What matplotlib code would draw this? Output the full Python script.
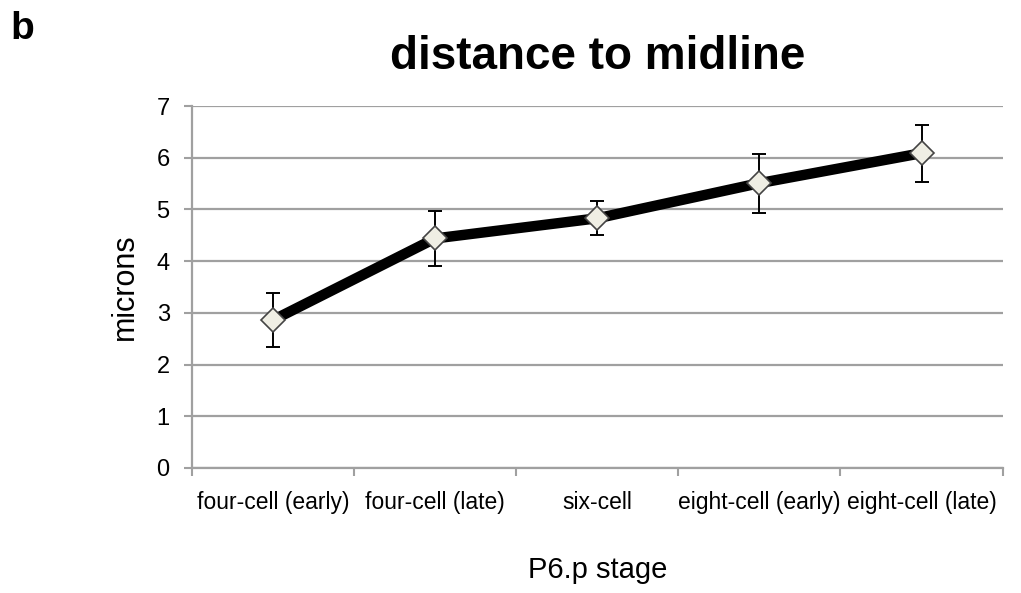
import numpy as np
import matplotlib
matplotlib.use('Agg')
import matplotlib.pyplot as plt

plt.rcParams['font.family'] = ['Liberation Sans', 'DejaVu Sans']

stages = ['four-cell (early)', 'four-cell (late)', 'six-cell',
          'eight-cell (early)', 'eight-cell (late)']
distance = [2.86, 4.44, 4.83, 5.51, 6.09]
err = [0.52, 0.53, 0.33, 0.57, 0.55]

fig = plt.figure(figsize=(10.21, 5.93), dpi=100)
ax = fig.add_axes([0.188, 0.211, 0.794, 0.610])

x = np.arange(len(stages)) + 0.5
grid_c = '#a0a0a0'

ax.errorbar(x, distance, yerr=err, fmt='none', ecolor='black',
            elinewidth=1.4, capsize=5, capthick=1.4, zorder=3)
ax.plot(x, distance, color='black', linewidth=7.5, zorder=4)
ax.plot(x, distance, linestyle='none', marker='D', markersize=12,
        markerfacecolor='#efeee4', markeredgecolor='#444444',
        markeredgewidth=1.2, zorder=5)

ax.set_xlim(0, len(stages))
ax.set_ylim(0, 7)
ax.set_yticks(range(8))
ax.set_xticks(range(len(stages) + 1))
ax.set_xticklabels([])
ax.set_xticks(x, minor=True)
ax.set_xticklabels(stages, minor=True, fontsize=16.5)
ax.tick_params(axis='x', which='minor', length=0, pad=17)
ax.tick_params(axis='x', which='major', length=6, width=1.5, color=grid_c)
ax.tick_params(axis='y', length=6, width=1.5, color=grid_c, labelsize=17, pad=10)

ax.yaxis.grid(True, color=grid_c, linewidth=1.6)
ax.set_axisbelow(True)
for s in ['top', 'right']:
    ax.spines[s].set_visible(False)
for s in ['left', 'bottom']:
    ax.spines[s].set_color(grid_c)
    ax.spines[s].set_linewidth(1.6)

ax.set_ylabel('microns', fontsize=22, labelpad=12)
ax.set_xlabel('P6.p stage', fontsize=21, labelpad=30)
ax.set_title('distance to midline', fontsize=33, fontweight='bold', pad=27)
fig.text(10 / 1021, 1 - 39 / 593, 'b', fontsize=28, fontweight='bold',
         va='baseline')

fig.savefig('out.png', dpi=100)
